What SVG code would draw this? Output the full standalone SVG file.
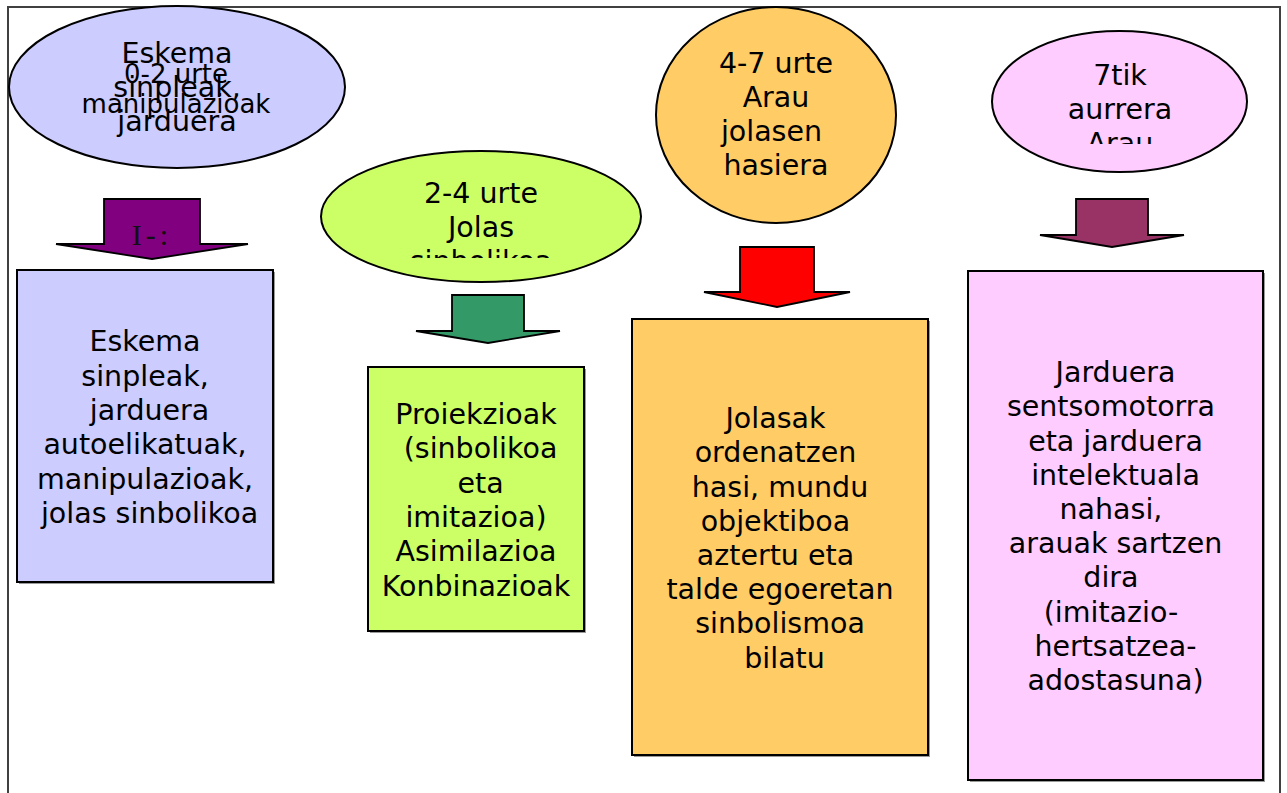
<svg xmlns="http://www.w3.org/2000/svg" width="1287" height="793" viewBox="0 0 1287 793">
<style>
.t{font-family:"DejaVu Sans",Verdana,sans-serif;font-size:28.5px;fill:#000;text-anchor:middle;white-space:pre}
.s{font-size:26px}
.sh{fill:#9a9a9a}
.bx{stroke:#000;stroke-width:2}
.el{stroke:#000;stroke-width:2}
.ar{stroke:#000;stroke-width:1.8;stroke-linejoin:miter}
</style>
<defs>
<clipPath id="c2"><rect x="300" y="140" width="360" height="118"/></clipPath>
<clipPath id="c4"><rect x="980" y="20" width="280" height="124"/></clipPath>
</defs>
<rect x="0" y="0" width="1287" height="793" fill="#fff"/>
<rect id="frame" x="8" y="7" width="1272" height="800" fill="none" stroke="#404040" stroke-width="2"/>

<g id="connectors">
<path id="arrow1" class="ar" fill="#800080" d="M104,199 H200 V244 H248 L152,259 L56,244 H104 Z"/>
<text x="152" y="245" font-family="'Liberation Serif',serif" font-size="30" text-anchor="middle" letter-spacing="4" fill="#111">I-:</text>
<path id="arrow2" class="ar" fill="#339966" d="M452,295 H524 V331 H560 L488,343 L416,331 H452 Z"/>
<path id="arrow3" class="ar" fill="#FF0000" d="M740,247 H814 V292 H850 L777,307 L704,292 H740 Z"/>
<path id="arrow4" class="ar" fill="#993366" d="M1076,199 H1148 V235 H1184 L1112,247 L1040,235 H1076 Z"/>
</g>

<g id="ellipse1">
<ellipse class="el" cx="177" cy="87" rx="168" ry="81" fill="#CCCCFF"/>
<text class="t" x="177" y="63">Eskema</text>
<text class="t" x="177" y="97">sinpleak,</text>
<text class="t" x="177" y="131">jarduera</text>
<text class="t s" x="176" y="83">0-2 urte</text>
<text class="t s" x="176" y="113">manipulazioak</text>
</g>

<g id="box1">
<rect class="sh" x="19" y="272" width="256" height="312"/>
<rect class="bx" x="17" y="270" width="256" height="312" fill="#CCCCFF"/>
<text class="t" x="145" y="351">Eskema</text>
<text class="t" x="145" y="385.5">sinpleak,</text>
<text class="t" x="145" y="420"> jarduera</text>
<text class="t" x="145" y="454">autoelikatuak,</text>
<text class="t" x="145" y="488.5">manipulazioak,</text>
<text class="t" x="145" y="522.5"> jolas sinbolikoa</text>
</g>

<g id="ellipse2">
<ellipse class="el" cx="481" cy="216.5" rx="160" ry="65.5" fill="#CCFF66"/>
<g clip-path="url(#c2)">
<text class="t" x="481" y="203">2-4 urte</text>
<text class="t" x="481" y="237">Jolas</text>
<text class="t" x="481" y="271">sinbolikoa</text>
</g>
</g>

<g id="box2">
<rect class="sh" x="370" y="369" width="216" height="264"/>
<rect class="bx" x="368" y="367" width="216" height="264" fill="#CCFF66"/>
<text class="t" x="476" y="424">Proiekzioak</text>
<text class="t" x="476" y="458"> (sinbolikoa</text>
<text class="t" x="476" y="492.5"> eta</text>
<text class="t" x="476" y="527">imitazioa)</text>
<text class="t" x="476" y="561">Asimilazioa</text>
<text class="t" x="476" y="595.5">Konbinazioak</text>
</g>

<g id="ellipse3">
<ellipse class="el" cx="776" cy="115" rx="120" ry="108" fill="#FFCC66"/>
<text class="t" x="776" y="73">4-7 urte</text>
<text class="t" x="776" y="107">Arau</text>
<text class="t" x="776" y="141">jolasen </text>
<text class="t" x="776" y="175">hasiera</text>
</g>

<g id="box3">
<rect class="sh" x="634" y="321" width="296" height="436"/>
<rect class="bx" x="632" y="319" width="296" height="436" fill="#FFCC66"/>
<text class="t" x="780" y="428">Jolasak </text>
<text class="t" x="780" y="462">ordenatzen </text>
<text class="t" x="780" y="497">hasi, mundu</text>
<text class="t" x="780" y="531">objektiboa </text>
<text class="t" x="780" y="565">aztertu eta </text>
<text class="t" x="780" y="599">talde egoeretan</text>
<text class="t" x="780" y="633">sinbolismoa</text>
<text class="t" x="780" y="668"> bilatu</text>
</g>

<g id="ellipse4">
<ellipse class="el" cx="1119.5" cy="101.5" rx="127.5" ry="70.5" fill="#FFCCFF"/>
<g clip-path="url(#c4)">
<text class="t" x="1120" y="85">7tik</text>
<text class="t" x="1120" y="119">aurrera</text>
<text class="t" x="1120" y="153">Arau</text>
</g>
</g>

<g id="box4">
<rect class="sh" x="970" y="273" width="295" height="509"/>
<rect class="bx" x="968" y="271" width="295" height="509" fill="#FFCCFF"/>
<text class="t" x="1115.5" y="382">Jarduera</text>
<text class="t" x="1115.5" y="416">sentsomotorra </text>
<text class="t" x="1115.5" y="451">eta jarduera</text>
<text class="t" x="1115.5" y="485">intelektuala</text>
<text class="t" x="1115.5" y="519">nahasi, </text>
<text class="t" x="1115.5" y="553">arauak sartzen</text>
<text class="t" x="1115.5" y="587">dira </text>
<text class="t" x="1115.5" y="622">(imitazio- </text>
<text class="t" x="1115.5" y="656">hertsatzea-</text>
<text class="t" x="1115.5" y="690">adostasuna)</text>
</g>
</svg>
